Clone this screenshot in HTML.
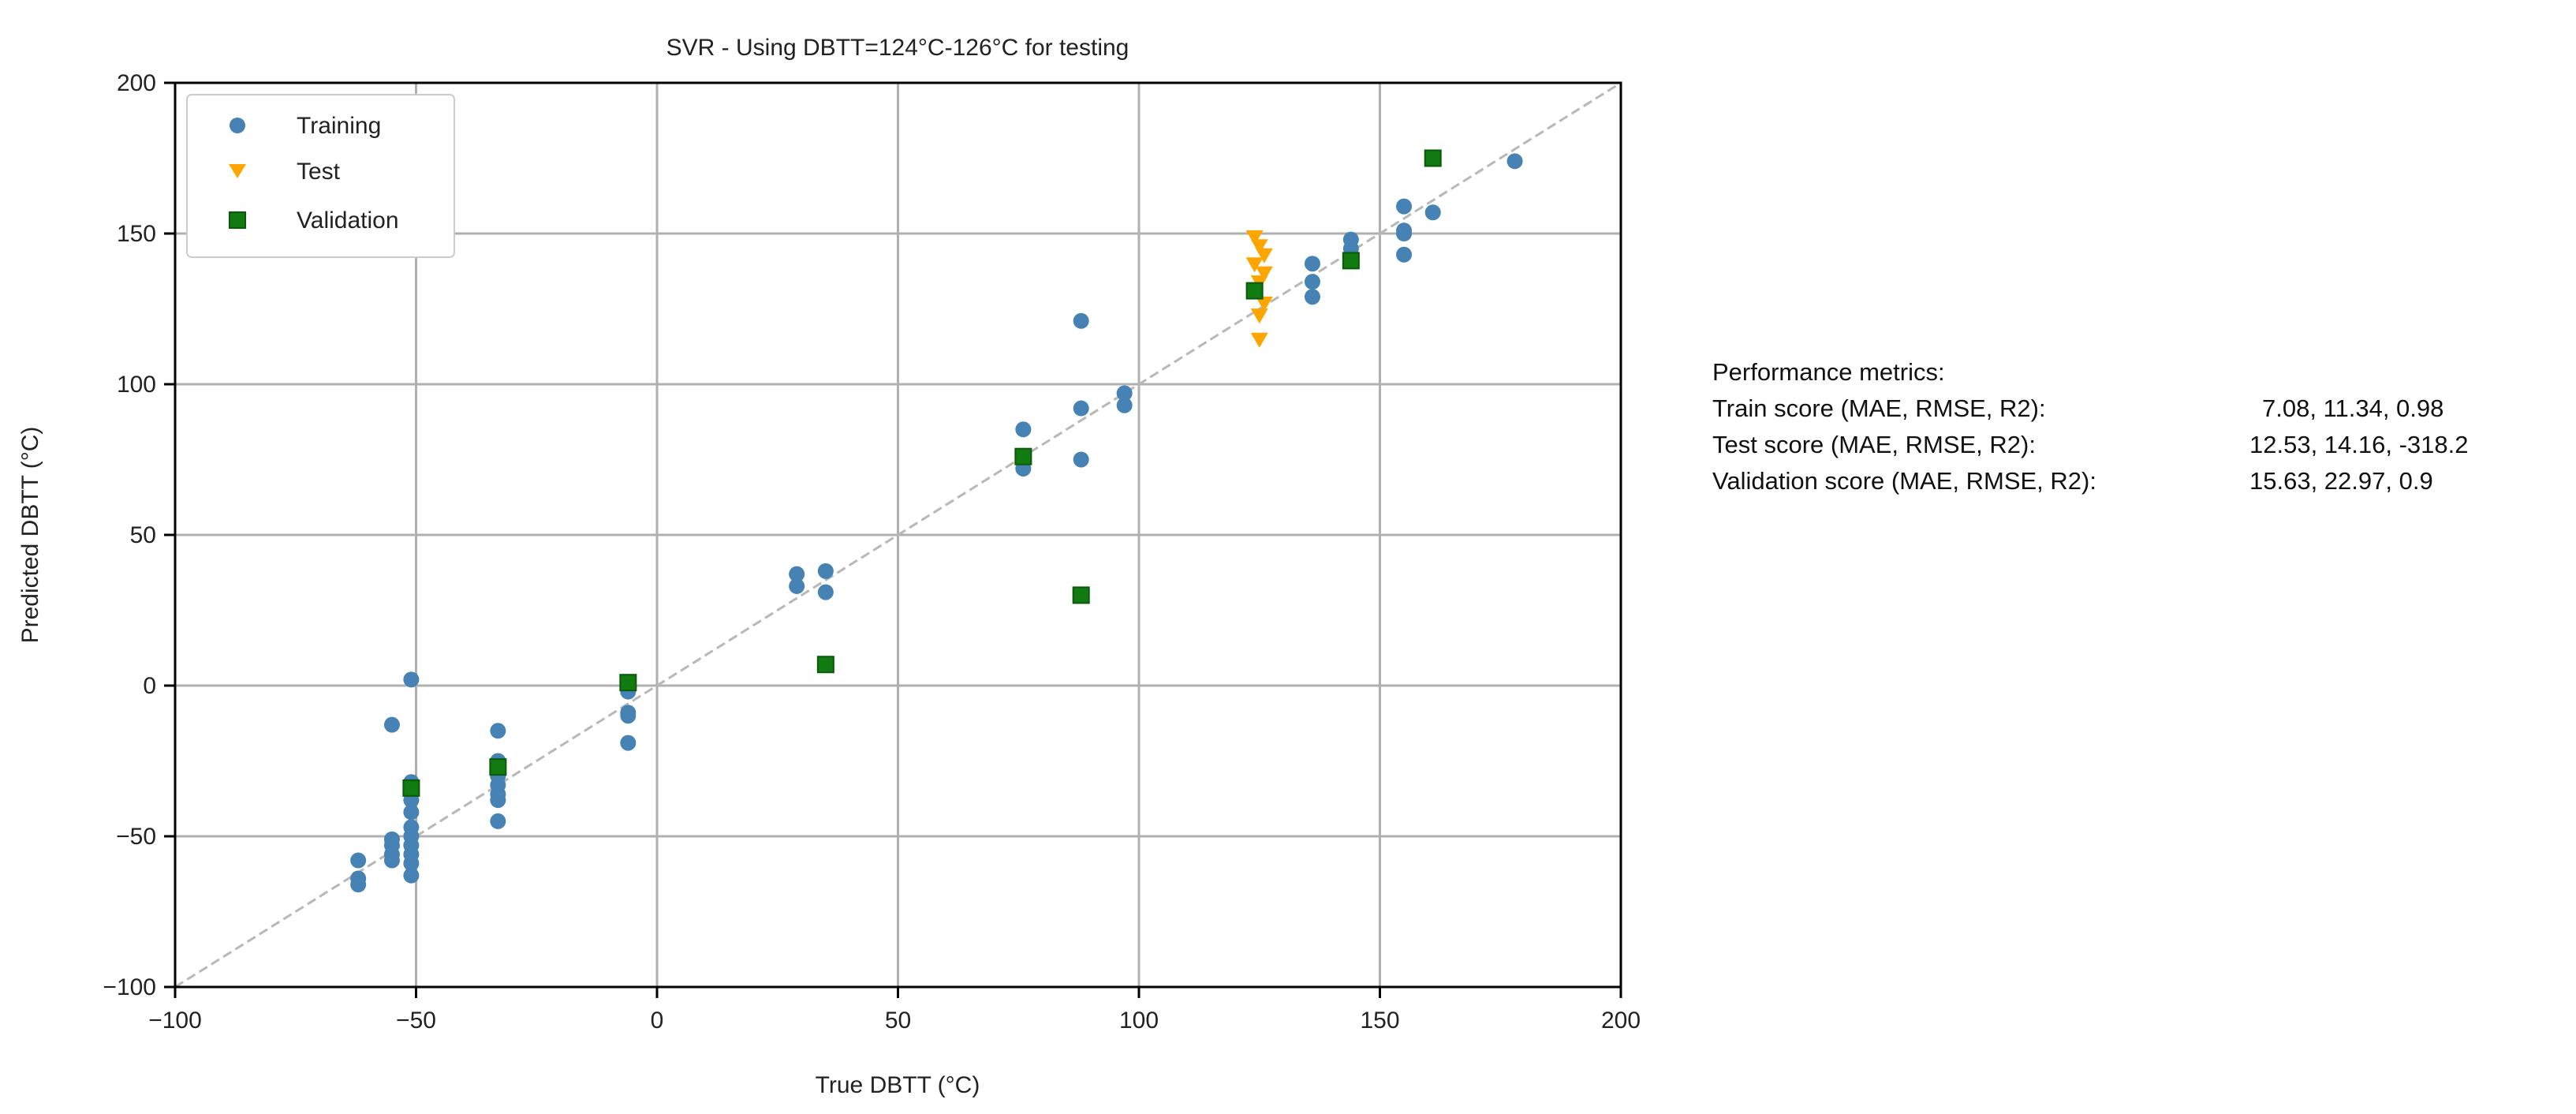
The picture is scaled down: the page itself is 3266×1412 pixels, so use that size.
<!DOCTYPE html>
<html><head><meta charset="utf-8">
<style>
html,body{margin:0;padding:0;background:#fff;}
svg{display:block;font-family:"Liberation Sans",sans-serif;}
</style></head>
<body>
<svg id="chart" width="3266" height="1412" viewBox="0 0 3266 1412" xmlns="http://www.w3.org/2000/svg">
<rect x="0" y="0" width="3266" height="1412" fill="#fff"/>
<text x="1138" y="70" font-size="30" text-anchor="middle" fill="#222">SVR - Using DBTT=124°C-126°C for testing</text>
<g id="grid"></g>
<g id="marks"></g>
<rect x="222" y="105" width="1833" height="1146" fill="none" stroke="#000" stroke-width="3"/>
<g id="ticks"></g>
<text x="1138" y="1385" font-size="30" text-anchor="middle" fill="#222">True DBTT (°C)</text>
<text transform="translate(48,678) rotate(-90)" font-size="30" text-anchor="middle" fill="#222">Predicted DBTT (°C)</text>
<g>
<rect x="237" y="120" width="339" height="206" rx="6" fill="#fff" stroke="#ccc" stroke-width="2"/>
<g>
<circle cx="301" cy="159" r="10" fill="#4682b4"/>
<text x="376" y="169" font-size="30" fill="#222">Training</text></g>
<g>
<polygon points="290,208 312,208 301,226" fill="#ffa500"/>
<text x="376" y="227" font-size="30" fill="#222">Test</text></g>
<g>
<rect x="291" y="269" width="20" height="20" fill="#117a11" stroke="#0a5a0a" stroke-width="2"/>
<text x="376" y="289" font-size="30" fill="#222">Validation</text></g>
</g>
<g font-size="31" fill="#111">
<text x="2171" y="482">Performance metrics:</text>
<text x="2171" y="528">Train score (MAE, RMSE, R2):</text>
<text x="2868" y="528">7.08, 11.34, 0.98</text>
<text x="2171" y="574">Test score (MAE, RMSE, R2):</text>
<text x="2852" y="574">12.53, 14.16, -318.2</text>
<text x="2171" y="620">Validation score (MAE, RMSE, R2):</text>
<text x="2852" y="620">15.63, 22.97, 0.9</text>
</g>
</svg>
<script>
const xTicks = [-100, -50, 0, 50, 100, 150, 200];
const yTicks = [-100, -50, 0, 50, 100, 150, 200];
const trainX = [-62,-62,-62,-55,-55,-55,-55,-55,-51,-51,-51,-51,-51,-51,-51,-51,-51,-51,-51,-33,-33,-33,-33,-33,-33,-33,-33,-6,-6,-6,-6,-6,29,29,35,35,76,76,76,88,88,88,97,97,136,136,136,144,144,155,155,155,155,161,178];
const trainY = [-58,-64,-66,-13,-51,-53,-56,-58,2,-32,-35,-38,-42,-47,-50,-53,-56,-59,-63,-15,-25,-27,-30,-33,-36,-38,-45,-1,-2,-9,-10,-19,37,33,38,31,85,75,72,121,92,75,97,93,140,134,129,148,145,159,151,150,143,157,174];
const testX = [124,125,126,124,126,125,124,126,125,125];
const testY = [149,146,143,140,137,134,131,127,123,115];
const valX = [-51,-33,-6,35,76,88,124,144,161];
const valY = [-34,-27,1,7,76,30,131,141,175];

const NS = "http://www.w3.org/2000/svg";
const L = 222, R = 2055, T = 105, B = 1251;
const xs = v => L + (v + 100) / 300 * (R - L);
const ys = v => B - (v + 100) / 300 * (B - T);
function mk(tag, attrs, parent) {
  const e = document.createElementNS(NS, tag);
  for (const k in attrs) e.setAttribute(k, attrs[k]);
  parent.appendChild(e);
  return e;
}
const grid = document.getElementById('grid');
const ticks = document.getElementById('ticks');
const marks = document.getElementById('marks');
xTicks.forEach(t => {
  const g = mk('line', {x1: xs(t), x2: xs(t), y1: T, y2: B, stroke: '#b0b0b0', 'stroke-width': 3}, grid);
  
  
  const tk = mk('line', {x1: xs(t), x2: xs(t), y1: B, y2: B + 14, stroke: '#000', 'stroke-width': 3}, ticks);
  
  
  const lb = mk('text', {x: xs(t), y: B + 52, 'font-size': 30, 'text-anchor': 'middle', fill: '#222'}, ticks);
  lb.textContent = (t < 0 ? '\u2212' + Math.abs(t) : t);
  
  
});
yTicks.forEach(t => {
  const g = mk('line', {x1: L, x2: R, y1: ys(t), y2: ys(t), stroke: '#b0b0b0', 'stroke-width': 3}, grid);
  
  
  const tk = mk('line', {x1: L - 14, x2: L, y1: ys(t), y2: ys(t), stroke: '#000', 'stroke-width': 3}, ticks);
  
  
  const lb = mk('text', {x: L - 24, y: ys(t) + 10, 'font-size': 30, 'text-anchor': 'end', fill: '#222'}, ticks);
  lb.textContent = (t < 0 ? '\u2212' + Math.abs(t) : t);
  
  
});
const diag = mk('line', {x1: xs(-100), y1: ys(-100), x2: xs(200), y2: ys(200), stroke: '#b8b8b8', 'stroke-width': 3, 'stroke-dasharray': '12,6'}, marks);


trainX.forEach((x, i) => {
  const c = mk('circle', {cx: xs(x), cy: ys(trainY[i]), r: 10, fill: '#4682b4'}, marks);
  
  
});
testX.forEach((x, i) => {
  const cx = xs(x), cy = ys(testY[i]);
  const p = mk('polygon', {points: `${cx-11},${cy-8} ${cx+11},${cy-8} ${cx},${cy+11}`, fill: '#ffa500'}, marks);
  
  
});
valX.forEach((x, i) => {
  const r = mk('rect', {x: xs(x) - 10, y: ys(valY[i]) - 10, width: 20, height: 20, fill: '#117a11', stroke: '#0a5a0a', 'stroke-width': 2}, marks);
  
  
});
</script>
</body></html>
